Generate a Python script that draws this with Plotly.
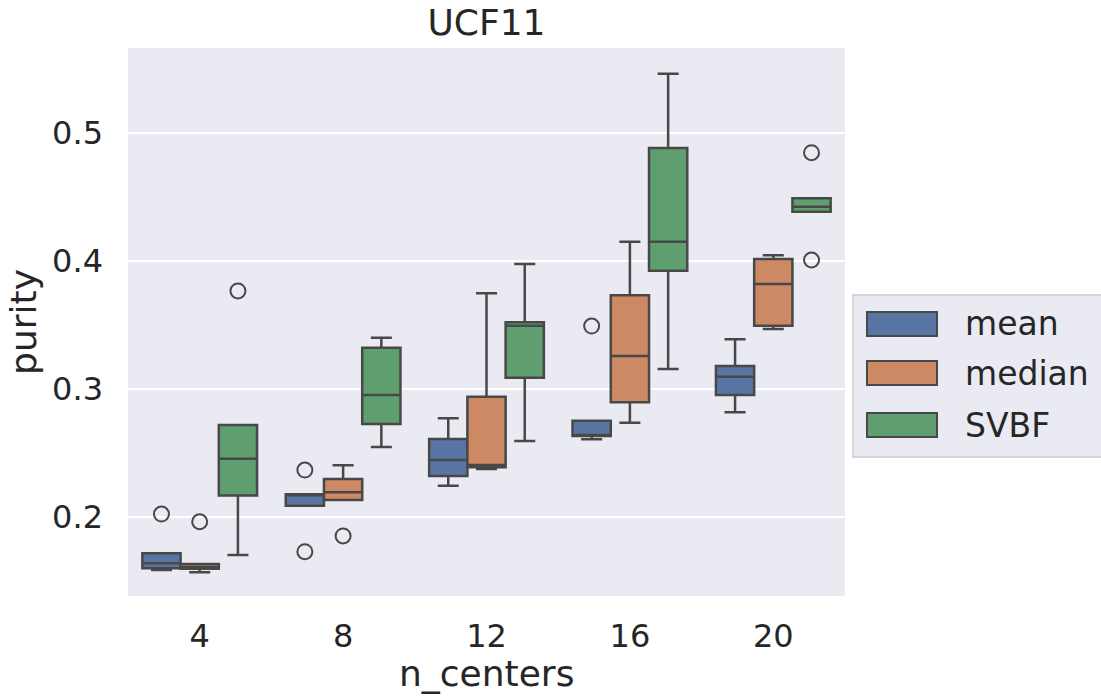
import plotly.graph_objects as go

# Boxplot summary of cluster purity on UCF11 per number of centers
n_centers = [4, 8, 12, 16, 20]
methods = ["mean", "median", "SVBF"]
colors = ["#5875A4", "#CC8963", "#5F9E6E"]

# five-number summaries per method (one value per n_centers)
lower = {
    "mean":   [0.1586, 0.2088, 0.2245, 0.2607, 0.2818],
    "median": [0.1568, 0.2133, 0.2375, 0.2737, 0.3469],
    "SVBF":   [0.1703, 0.2547, 0.2594, 0.3156, 0.4385],
}
q1 = {
    "mean":   [0.1599, 0.2088, 0.2320, 0.2633, 0.2953],
    "median": [0.1596, 0.2133, 0.2388, 0.2896, 0.3495],
    "SVBF":   [0.2169, 0.2727, 0.3088, 0.3924, 0.4385],
}
median = {
    "mean":   [0.1638, 0.2170, 0.2445, 0.2640, 0.3096],
    "median": [0.1610, 0.2193, 0.2406, 0.3258, 0.3820],
    "SVBF":   [0.2456, 0.2953, 0.3495, 0.4151, 0.4424],
}
q3 = {
    "mean":   [0.1716, 0.2177, 0.2609, 0.2752, 0.3180],
    "median": [0.1633, 0.2297, 0.2940, 0.3732, 0.4016],
    "SVBF":   [0.2719, 0.3323, 0.3521, 0.4883, 0.4490],
}
upper = {
    "mean":   [0.1716, 0.2177, 0.2771, 0.2752, 0.3388],
    "median": [0.1633, 0.2404, 0.3748, 0.4151, 0.4045],
    "SVBF":   [0.2719, 0.3401, 0.3977, 0.5463, 0.4490],
}
# points beyond the whiskers
outliers = {
    "mean":   [[0.2023], [0.2367, 0.1729], [], [0.3492], []],
    "median": [[0.1963], [0.1852], [], [], []],
    "SVBF":   [[0.3766], [], [], [], [0.4846, 0.4008]],
}

y_ticks = [0.2, 0.3, 0.4, 0.5]

EDGE = "#484848"
TEXT = "#262626"
FONT = "DejaVu Sans"
group_width = 0.8
box_w = group_width / len(methods)

fig = go.Figure()
for i, m in enumerate(methods):
    offset = (i - (len(methods) - 1) / 2) * box_w
    xs = [k + offset for k in range(len(n_centers))]
    fig.add_trace(go.Box(
        x=xs, q1=q1[m], median=median[m], q3=q3[m],
        lowerfence=lower[m], upperfence=upper[m],
        width=box_w, whiskerwidth=0.55,
        fillcolor=colors[i], line=dict(color=EDGE, width=2.5),
        name=m, showlegend=False, hoverinfo="skip",
    ))
    ox, oy = [], []
    for k, pts in enumerate(outliers[m]):
        ox += [k + offset] * len(pts)
        oy += pts
    fig.add_trace(go.Scatter(
        x=ox, y=oy, mode="markers", showlegend=False, hoverinfo="skip",
        marker=dict(symbol="circle-open", size=15, color=EDGE,
                    line=dict(width=2, color=EDGE)),
    ))

# legend drawn as patches + labels to the right of the axes
L, T, B = 128, 48, 596
PW, PH = 845 - 128, 596 - 48
def px_x(p):
    return (p - L) / PW
def px_y(p):
    return (B - p) / PH

shapes = [dict(type="rect", xref="paper", yref="paper",
               x0=px_x(853), x1=px_x(1120), y0=px_y(457), y1=px_y(295),
               line=dict(color="#CCCCCC", width=1.5), fillcolor="#EAEAF2",
               layer="below")]
annotations = []
rows = [324, 373, 425]
for i, m in enumerate(methods):
    cy = rows[i]
    shapes.append(dict(type="rect", xref="paper", yref="paper",
                       x0=px_x(867), x1=px_x(937), y0=px_y(cy + 12), y1=px_y(cy - 12),
                       line=dict(color=EDGE, width=2), fillcolor=colors[i]))
    annotations.append(dict(xref="paper", yref="paper", x=px_x(963), y=px_y(cy),
                            text=m, showarrow=False, xanchor="left", yanchor="middle",
                            font=dict(size=33, color=TEXT, family=FONT)))

# x-axis title placed below the tick labels
annotations.append(dict(xref="paper", yref="paper", x=0.5, y=px_y(673),
                        text="n_centers", showarrow=False,
                        xanchor="center", yanchor="middle",
                        font=dict(size=36, color=TEXT, family=FONT)))

fig.update_layout(
    width=1101, height=696,
    margin=dict(l=L, r=1101 - 845, t=T, b=696 - B, autoexpand=False),
    paper_bgcolor="white", plot_bgcolor="#EAEAF2",
    font=dict(family=FONT, color=TEXT, size=32),
    title=dict(text="UCF11", x=px_x(486.5), xref="paper", y=1 - 22 / 696,
               xanchor="center", yanchor="middle",
               font=dict(size=36, color=TEXT, family=FONT)),
    boxmode="overlay",
    shapes=shapes, annotations=annotations,
    xaxis=dict(range=[-0.5, len(n_centers) - 0.5],
               tickvals=list(range(len(n_centers))),
               ticktext=[str(n) for n in n_centers],
               showgrid=False, zeroline=False, showline=False,
               ticks="", ticklabelstandoff=18, automargin=False,
               tickfont=dict(size=32, color=TEXT)),
    yaxis=dict(range=[0.1383, 0.5664], tickvals=y_ticks,
               tickformat=".1f",
               showgrid=True, gridcolor="white", gridwidth=2.2,
               zeroline=False, showline=False,
               ticks="", ticklabelstandoff=24, automargin=False,
               tickfont=dict(size=32, color=TEXT),
               title=dict(text="purity", standoff=4,
                          font=dict(size=36, color=TEXT))),
)

fig.write_html("out.html")
